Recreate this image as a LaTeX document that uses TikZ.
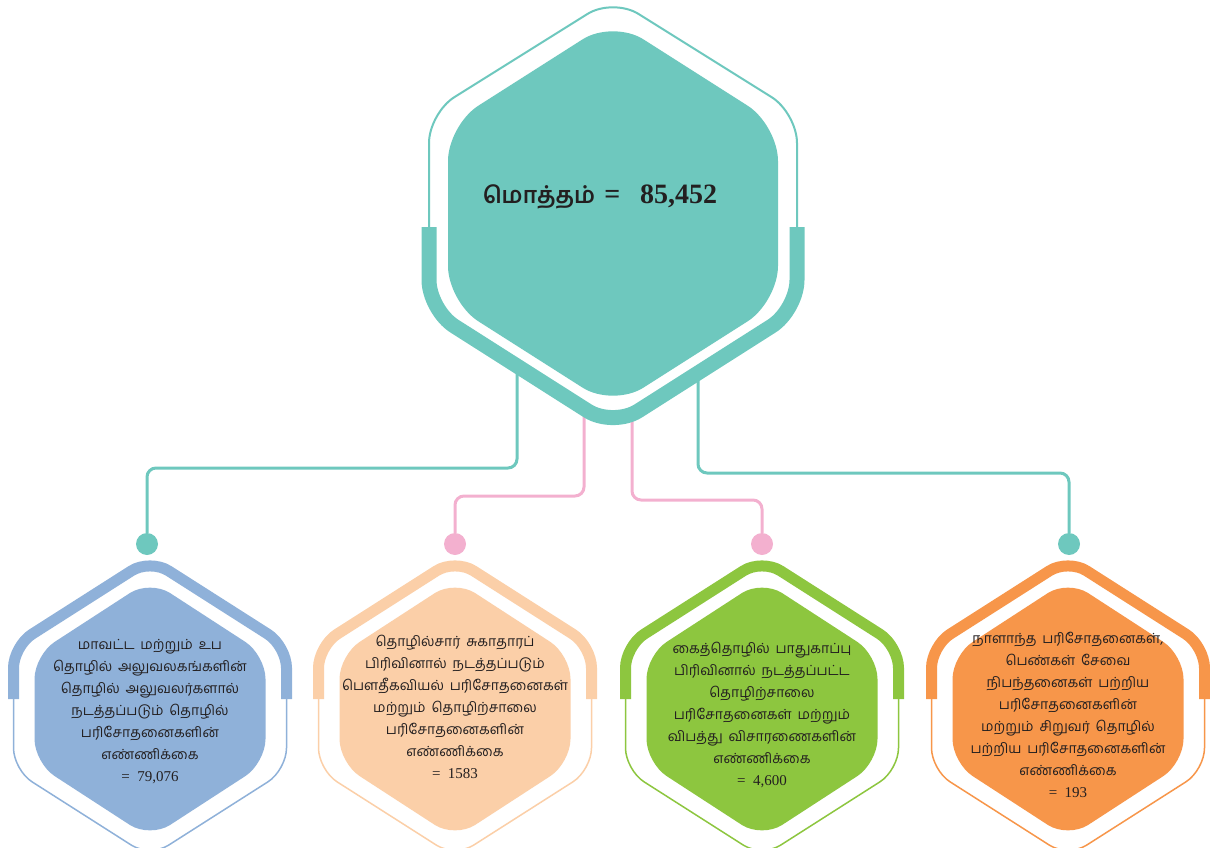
\documentclass[tikz,border=0pt]{standalone}
\usepackage{fontspec}
\newfontfamily\tam[Script=Tamil,WordSpace=1.7]{Hind Madurai}
\newfontfamily\numf{Liberation Serif}
\definecolor{teal1}{HTML}{6EC8BE}
\definecolor{pink1}{HTML}{F3B0CF}
\definecolor{blue1}{HTML}{8FB1D9}
\definecolor{peach1}{HTML}{FBCFA8}
\definecolor{green1}{HTML}{8DC63F}
\definecolor{orange1}{HTML}{F7964A}
\definecolor{ink}{HTML}{231F20}
\newcommand{\drawlowhex}[2]{%
\begin{scope}[shift={(#1,0)}]
\fill[white,rounded corners=22] (0,559) -- (136.5,646) -- (136.5,770) -- (0,857) -- (-136.5,770) -- (-136.5,646) -- cycle;
\draw[#2,line width=11,rounded corners=22] (-136.5,699) -- (-136.5,646) -- (0,559) -- (136.5,646) -- (136.5,699);
\draw[#2,line width=1.5,rounded corners=22] (136.5,699) -- (136.5,770) -- (0,857) -- (-136.5,770) -- (-136.5,699);
\fill[#2,rounded corners=24] (0,580) -- (115.5,655) -- (115.5,763) -- (0,838) -- (-115.5,763) -- (-115.5,655) -- cycle;
\end{scope}}
\tikzset{
  conn/.style={line width=3,rounded corners=9},
  dot/.style={circle,fill=#1,minimum size=22,inner sep=0},
  lowtext/.style={align=center,text=ink,font=\tam\fontsize{14}{22}\selectfont,inner sep=0},
}
\begin{document}
\begin{tikzpicture}[x=1pt,y=-1pt]
\useasboundingbox (0,0) rectangle (1210,848);
% connector start points (hidden behind the top hexagon)
\coordinate (s1) at (517,330);
\coordinate (s2) at (584,330);
\coordinate (s3) at (632,330);
\coordinate (s4) at (698,330);
\coordinate (k1) at (147,468);
\coordinate (k2) at (455,496);
\coordinate (k3) at (762,500);
\coordinate (k4) at (1069,473);
\node[dot=teal1] (d1) at (147,544) {};
\node[dot=pink1] (d2) at (455,544) {};
\node[dot=pink1] (d3) at (762,544) {};
\node[dot=teal1] (d4) at (1069,544) {};
\draw[conn,teal1] (s1) |- (k1) -- (d1);
\draw[conn,pink1] (s2) |- (k2) -- (d2);
\draw[conn,pink1] (s3) |- (k3) -- (d3);
\draw[conn,teal1] (s4) |- (k4) -- (d4);
% top hexagon
\fill[white,rounded corners=30] (613,-2) -- (797,113) -- (797,310) -- (613,427) -- (429,310) -- (429,113) -- cycle;
\draw[teal1,line width=2,rounded corners=30] (429,227) -- (429,113) -- (613,-2) -- (797,113) -- (797,227);
\draw[teal1,line width=15,rounded corners=30] (797,227) -- (797,310) -- (613,427) -- (429,310) -- (429,227);
\fill[teal1,rounded corners=36] (613,20) -- (778,125) -- (778,302) -- (613,407) -- (448,302) -- (448,125) -- cycle;
\node[text=ink,inner sep=0] (top) at (600,197) {{\tam\bfseries\fontsize{23}{30}\selectfont மொத்தம்}\hspace{9pt}{\numf\bfseries\fontsize{28}{30}\selectfont =\hspace{20pt}85,452}};
% lower hexagons
\drawlowhex{150}{blue1}
\drawlowhex{455}{peach1}
\drawlowhex{762}{green1}
\drawlowhex{1068}{orange1}
\node[lowtext] (t1) at (150,712) {மாவட்ட மற்றும் உப\\தொழில் அலுவலகங்களின்\\தொழில் அலுவலர்களால்\\நடத்தப்படும் தொழில்\\பரிசோதனைகளின்\\எண்ணிக்கை\\{\numf\fontsize{15}{22}\selectfont =\ \ 79,076}};
\node[lowtext] (t2) at (455,707) {தொழில்சார் சுகாதாரப்\\பிரிவினால் நடத்தப்படும்\\பௌதீகவியல் பரிசோதனைகள்\\மற்றும் தொழிற்சாலை\\பரிசோதனைகளின்\\எண்ணிக்கை\\{\numf\fontsize{15}{22}\selectfont =\ \ 1583}};
\node[lowtext] (t3) at (762,715) {கைத்தொழில் பாதுகாப்பு\\பிரிவினால் நடத்தப்பட்ட\\தொழிற்சாலை\\பரிசோதனைகள் மற்றும்\\விபத்து விசாரணைகளின்\\எண்ணிக்கை\\{\numf\fontsize{15}{22}\selectfont =\ \ 4,600}};
\node[lowtext] (t4) at (1068,715) {நாளாந்த பரிசோதனைகள்,\\பெண்கள் சேவை\\நிபந்தனைகள் பற்றிய\\பரிசோதனைகளின்\\மற்றும் சிறுவர் தொழில்\\பற்றிய பரிசோதனைகளின்\\எண்ணிக்கை\\{\numf\fontsize{15}{22}\selectfont =\ \ 193}};
\end{tikzpicture}
\end{document}
